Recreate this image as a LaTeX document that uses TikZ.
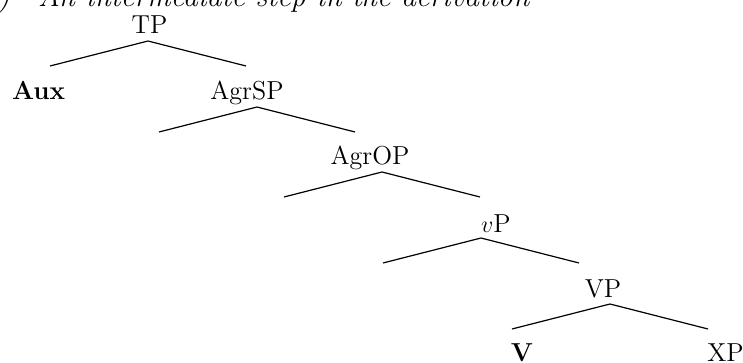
\documentclass[tikz,border=0pt]{standalone}
\usepackage{tikz}

\begin{document}
\begin{tikzpicture}[x=0.5pt,y=-0.5pt,line width=0.6pt,
  lbl/.style={anchor=base,inner sep=0pt,font=\fontsize{13}{15}\selectfont}]
\useasboundingbox (0,0) rectangle (743,363);

% caption, cut off at the top
\node[lbl,anchor=base west,font=\fontsize{15}{17}\selectfont\itshape] (cap) at (-28,7)
  {(b)\hspace{14pt}An intermediate step in the derivation};

% labels
\node[lbl] (TP) at (149.5,33.5) {TP};
\node[lbl] (Aux) at (38.5,99.5) {\textbf{Aux}};
\node[lbl] (AgrSP) at (247,99.5) {AgrSP};
\node[lbl] (AgrOP) at (370,164.5) {AgrOP};
\node[lbl] (vP) at (496,232) {$v$P};
\node[lbl] (VP) at (603,297) {VP};
\node[lbl] (V) at (522,361) {\textbf{V}};
\node[lbl] (XP) at (725.5,361) {XP};

% branches
\foreach \n/\x/\y in {TP/148/41, AgrSP/257/107, AgrOP/382/172, vP/481/238, VP/610/304}{
    \coordinate (\n-top) at (\x,\y);
    \coordinate (\n-l) at (\x-98,\y+25);
    \coordinate (\n-r) at (\x+98,\y+25);
    \draw (\n-l) -- (\n-top) -- (\n-r);
}
\end{tikzpicture}
\end{document}
